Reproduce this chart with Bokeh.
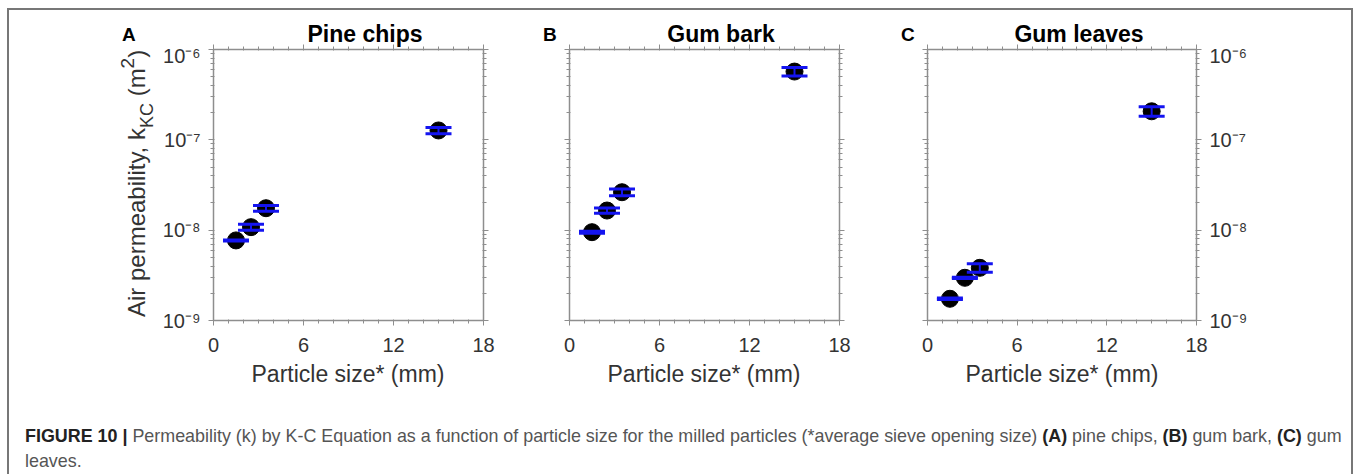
from bokeh.plotting import figure
from bokeh.models import (ColumnDataSource, LinearAxis, LogAxis, FixedTicker,
                          CustomJSTickFormatter, Whisker, TeeHead, Range1d, Div)
from bokeh.layouts import row, column
from bokeh.embed import file_html
from bokeh.resources import INLINE

# Average sieve opening size (mm)
size_mm = [1.5, 2.5, 3.5, 15.0]

# Kozeny-Carman air permeability k (m^2) and its error
pine_k = [7.7e-9, 1.08e-8, 1.75e-8, 1.27e-7]
pine_err = [0.1e-9, 0.85e-9, 1.3e-9, 1.0e-8]
bark_k = [9.5e-9, 1.65e-8, 2.63e-8, 5.7e-7]
bark_err = [0.25e-9, 1.15e-9, 2.3e-9, 6.1e-8]
leaf_k = [1.74e-9, 2.97e-9, 3.83e-9, 2.07e-7]
leaf_err = [0.03e-9, 0.05e-9, 0.41e-9, 2.5e-8]

panel_letters = ["A", "B", "C"]
panel_titles = ["Pine chips", "Gum bark", "Gum leaves"]
x_label = "Particle size* (mm)"
x_ticks = [0, 6, 12, 18]
x_minor = list(range(0, 19))
y_decades = [-9, -8, -7, -6]

FONT = "Liberation Sans"
CSS_FONT = "'Liberation Sans', Arial, Helvetica, sans-serif"
AXIS_GREY = "#8e8e8e"
TICK_TXT = "#333333"
BLUE = "#1414f0"

y_major = [10.0 ** d for d in y_decades]
y_minor = [m * 10.0 ** d for d in y_decades[:-1] for m in range(1, 10)] + [y_major[-1]]

sup_fmt = CustomJSTickFormatter(code="""
const sup = {"-": "\u207b", "0": "\u2070", "1": "\u00b9", "2": "\u00b2", "3": "\u00b3",
             "4": "\u2074", "5": "\u2075", "6": "\u2076", "7": "\u2077", "8": "\u2078", "9": "\u2079"};
const e = Math.round(Math.log10(tick));
return "10" + String(e).split("").map(c => sup[c]).join("");
""")
blank_fmt = CustomJSTickFormatter(code="return '';")

# ---- geometry of the panel row (pixels) ----
LEFT_W = 145          # column holding the rotated y title
TOP_H = 34            # strip holding the panel letters and titles
FIG_H = 320
BOTTOM_H = 110
FRAME_W, FRAME_H = 270, 271
BORDER_TOP, BORDER_BOTTOM = 5, 44
fig_specs = [          # (width, min_border_left, min_border_right, labelled y side)
    (372, 59, 43, "left"),
    (357, 43, 44, None),
    (468, 44, 155, "right"),
]
TOTAL_W = LEFT_W + sum(s[0] for s in fig_specs)


def style_axis(ax, labelled):
    ax.axis_line_color = AXIS_GREY
    ax.axis_line_width = 1.5
    ax.major_tick_line_color = AXIS_GREY
    ax.minor_tick_line_color = AXIS_GREY
    ax.major_tick_out = 5
    ax.major_tick_in = 0
    ax.minor_tick_out = 3
    ax.minor_tick_in = 1
    ax.major_label_text_font = FONT
    ax.major_label_text_font_size = "20px"
    ax.major_label_text_color = TICK_TXT
    ax.major_label_standoff = 8
    if not labelled:
        ax.formatter = blank_fmt
        ax.major_label_text_font_size = "1px"
        ax.major_label_standoff = 0


def panel(k, err, width, left, right, ylab_side):
    p = figure(width=width, height=FIG_H, x_range=Range1d(x_ticks[0], x_ticks[-1]),
               y_range=Range1d(y_major[0], y_major[-1]),
               y_axis_type="log", x_axis_location=None, y_axis_location=None,
               output_backend="svg", toolbar_location=None,
               min_border_left=left, min_border_right=right,
               min_border_top=BORDER_TOP, min_border_bottom=BORDER_BOTTOM)
    p.outline_line_color = None
    p.xgrid.visible = False
    p.ygrid.visible = False
    p.background_fill_color = "white"
    p.border_fill_color = None

    for side in ("below", "above"):
        ax = LinearAxis(ticker=FixedTicker(ticks=x_ticks, minor_ticks=x_minor))
        style_axis(ax, side == "below")
        if side == "below":
            ax.major_label_standoff = 12
        p.add_layout(ax, side)
    for side in ("left", "right"):
        ax = LogAxis(ticker=FixedTicker(ticks=y_major, minor_ticks=y_minor),
                     formatter=sup_fmt)
        style_axis(ax, side == ylab_side)
        p.add_layout(ax, side)

    src = ColumnDataSource(dict(
        x=size_mm, k=k,
        lo=[a - b for a, b in zip(k, err)],
        hi=[a + b for a, b in zip(k, err)],
    ))
    p.scatter("x", "k", source=src, size=17, color="black")
    wh = Whisker(source=src, base="x", upper="hi", lower="lo", dimension="height",
                 line_color=BLUE, line_width=2, level="overlay",
                 upper_head=TeeHead(size=26, line_color=BLUE, line_width=3),
                 lower_head=TeeHead(size=26, line_color=BLUE, line_width=3))
    p.add_layout(wh)
    return p


panels = [panel(k, e, *spec) for (k, e), spec in
          zip([(pine_k, pine_err), (bark_k, bark_err), (leaf_k, leaf_err)], fig_specs)]


def span(text, x, baseline, size, bold=False, align="left", color="black"):
    """absolutely placed text whose alphabetic baseline sits at `baseline`"""
    top = baseline - 0.8465 * size
    shift = {"left": "0", "center": "-50%", "right": "-100%"}[align]
    return (f'<span style="position:absolute;left:{x}px;top:{top:.1f}px;'
            f'transform:translateX({shift});white-space:nowrap;font-size:{size}px;'
            f'line-height:{size}px;font-weight:{"bold" if bold else "normal"};'
            f'color:{color}">{text}</span>')


def box(inner, w, h):
    return (f'<div style="position:relative;width:{w}px;height:{h}px;'
            f'font-family:{CSS_FONT};">{inner}</div>')


# frame left edges inside the panel strip, and their centres
frame_left, acc = [], 0
for w, l, r, _ in fig_specs:
    frame_left.append(acc + l)
    acc += w
frame_mid = [fl + FRAME_W / 2 for fl in frame_left]

# letters and titles above the frames (strip starts at the first figure)
top_html = ""
for i in range(3):
    if i > 0:
        top_html += span(panel_letters[i], frame_left[i] - 26, 31, 19, bold=True)
    top_html += span(panel_titles[i], frame_mid[i] + 17, 32, 23, bold=True,
                     align="center")
top_div = Div(width=TOTAL_W - LEFT_W, height=TOP_H, margin=0,
              text=box(top_html, TOTAL_W - LEFT_W, TOP_H), styles={"overflow": "visible"})

# left column: letter A and the rotated y-axis title
ylab = ('<span style="position:absolute;left:115.7px;top:307px;transform-origin:0 0;'
        'transform:rotate(-90deg);white-space:nowrap;font-size:24px;line-height:24px;'
        f'color:{TICK_TXT}">Air permeability, k'
        '<sub style="font-size:18px;vertical-align:baseline;position:relative;top:8px">KC</sub>'
        ' (m<sup style="font-size:19px;vertical-align:baseline;position:relative;top:-11px">2</sup>)'
        '</span>')
left_html = span(panel_letters[0], 113, 31, 19, bold=True) + ylab
left_div = Div(width=LEFT_W, height=TOP_H + FIG_H, margin=0,
               text=box(left_html, LEFT_W, TOP_H + FIG_H), styles={"overflow": "visible"})

# x-axis titles and the figure caption
bottom_html = ""
for i in range(3):
    bottom_html += span(x_label, LEFT_W + frame_mid[i], 18, 23, align="center",
                        color=TICK_TXT)
bottom_html += (
    '<div style="position:absolute;left:16px;top:60.2px;font-size:17.9px;line-height:25px;'
    'color:#555;white-space:nowrap;">'
    '<b style="color:#222">FIGURE 10 |</b> Permeability (k) by K-C Equation as a function '
    'of particle size for the milled particles (*average sieve opening size) '
    '<b style="color:#222">(A)</b> pine chips, <b style="color:#222">(B)</b> gum bark, '
    '<b style="color:#222">(C)</b> gum<br>leaves.</div>')
bottom_div = Div(width=TOTAL_W, height=BOTTOM_H, margin=0,
                 text=box(bottom_html, TOTAL_W, BOTTOM_H), styles={"overflow": "visible"})

layout = column(
    row(left_div, column(top_div, row(*panels, spacing=0), spacing=0), spacing=0),
    bottom_div, spacing=0,
    styles={"border-top": "2px solid #777", "border-left": "2px solid #777",
            "border-right": "2px solid #777", "margin-left": "7px", "margin-top": "8px"})

open("out.html", "w").write(file_html(layout, INLINE))
